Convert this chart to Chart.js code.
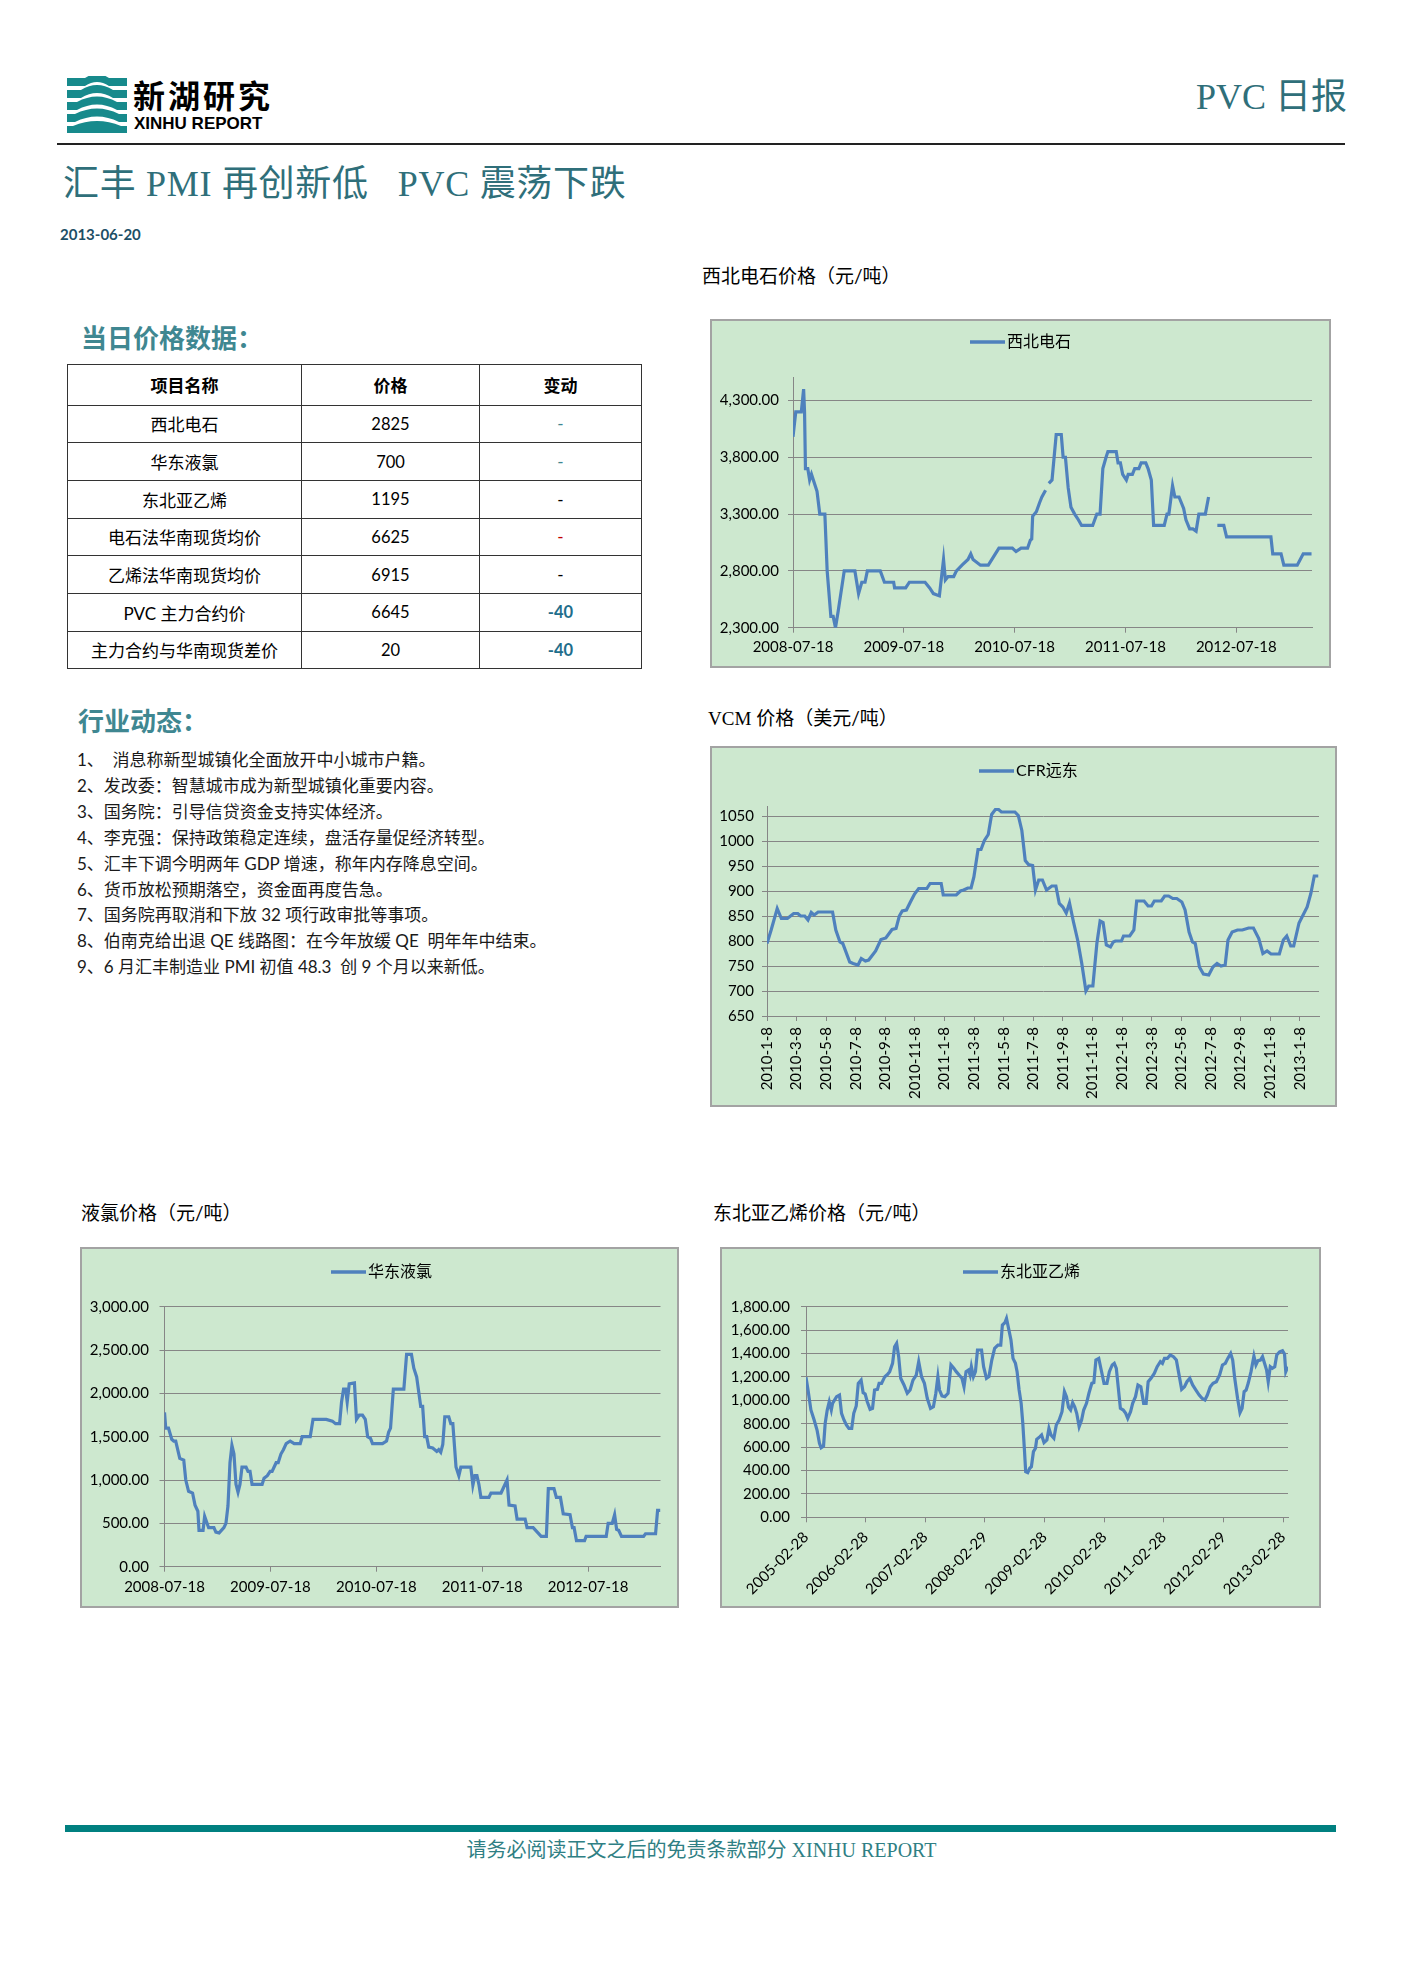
<!DOCTYPE html>
<html>
<head>
<meta charset="utf-8">
<title>PVC 日报</title>
<script src="https://cdn.jsdelivr.net/npm/chart.js@4.4.1/dist/chart.umd.min.js"></script>
<style>
  html, body { margin: 0; padding: 0; background: #fff; }
  #page { position: relative; width: 1403px; height: 1984px; overflow: hidden; background: #fff;
          font-family: Lato, "Noto Sans CJK SC", sans-serif; color: #000; }
  .abs { position: absolute; white-space: pre; line-height: 1; }
  .teal { color: #3f8791; }
  .serif { font-family: "Liberation Serif", "Noto Sans CJK SC", serif; }
  .box { position: absolute; background: #cde8cf; border: 2px solid #a3a3a3; box-sizing: border-box; }
  .box canvas { position: absolute; left: 0; top: 0; }
  table.px { position: absolute; left: 67px; top: 364px; width: 574px; border-collapse: collapse; table-layout: fixed; }
  table.px td { border: 1.5px solid #333; text-align: center; font-size: 17px; height: 36.7px; padding: 0;
                font-family: Lato, "Noto Sans CJK SC", sans-serif; }
  table.px tr.hd td { font-weight: bold; height: 39.5px; }
  table.px td.num { font-size: 16.5px; }
  .list { position: absolute; left: 77px; top: 747px; font-size: 17px; line-height: 25.9px; white-space: pre; color: #1a1a1a; }
</style>
</head>
<body>
<div id="page">
  <!-- logo -->
  <svg class="abs" style="left:67px;top:76px" width="60" height="57" viewBox="0 0 60 57">
    <g fill="#178a8c">
      <path d="M0 2 L18 2 Q30 -6 42 2 L60 2 L60 10 L42 10 Q30 2 18 10 L0 10 Z"/>
      <path d="M0 14 L14 14 Q30 4 46 14 L60 14 L60 22 L46 22 Q30 12 14 22 L0 22 Z"/>
      <path d="M0 26 L10 26 Q30 15 50 26 L60 26 L60 34 L50 34 Q30 23 10 34 L0 34 Z"/>
      <path d="M0 38 L8 38 Q30 27 52 38 L60 38 L60 46 L52 46 Q30 35 8 46 L0 46 Z"/>
      <path d="M0 50 L6 50 Q30 40 54 50 L60 50 L60 57 L0 57 Z"/>
    </g>
  </svg>
  <div class="abs" style="left:133px;top:78px;font-size:32px;font-weight:bold;letter-spacing:3px;font-family:'Noto Sans CJK SC'">新湖研究</div>
  <div class="abs" style="left:134px;top:115px;font-size:17px;font-weight:bold;font-family:'Liberation Sans'">XINHU REPORT</div>
  <div class="abs serif" style="right:56px;top:79px;font-size:36px;color:#2f6f7a">PVC 日报</div>
  <div class="abs" style="left:57px;top:143px;width:1288px;height:2px;background:#222"></div>

  <div class="abs serif" style="left:63px;top:166px;font-size:36px;letter-spacing:0.7px;color:#2f6f7a">汇丰 PMI 再创新低   PVC 震荡下跌</div>
  <div class="abs" style="left:60px;top:227px;font-size:15px;font-weight:bold;color:#1d4f66">2013-06-20</div>

  <div class="abs teal" style="left:81px;top:325px;font-size:26px;font-weight:bold">当日价格数据：</div>
  <table class="px">
    <colgroup><col style="width:234px"><col style="width:178px"><col style="width:162px"></colgroup>
    <tr class="hd"><td>项目名称</td><td>价格</td><td>变动</td></tr>
    <tr><td>西北电石</td><td class="num">2825</td><td style="color:#3f8791">-</td></tr>
    <tr><td>华东液氯</td><td class="num">700</td><td style="color:#3f8791">-</td></tr>
    <tr><td>东北亚乙烯</td><td class="num">1195</td><td>-</td></tr>
    <tr><td>电石法华南现货均价</td><td class="num">6625</td><td style="color:#c00000">-</td></tr>
    <tr><td>乙烯法华南现货均价</td><td class="num">6915</td><td>-</td></tr>
    <tr><td>PVC 主力合约价</td><td class="num">6645</td><td class="num" style="color:#1f6e8c;font-weight:bold">-40</td></tr>
    <tr><td>主力合约与华南现货差价</td><td class="num">20</td><td class="num" style="color:#1f6e8c;font-weight:bold">-40</td></tr>
  </table>

  <div class="abs teal" style="left:78px;top:708px;font-size:26px;font-weight:bold">行业动态：</div>
  <div class="list">1、  消息称新型城镇化全面放开中小城市户籍。
2、发改委：智慧城市成为新型城镇化重要内容。
3、国务院：引导信贷资金支持实体经济。
4、李克强：保持政策稳定连续，盘活存量促经济转型。
5、汇丰下调今明两年 GDP 增速，称年内存降息空间。
6、货币放松预期落空，资金面再度告急。
7、国务院再取消和下放 32 项行政审批等事项。
8、伯南克给出退 QE 线路图：在今年放缓 QE  明年年中结束。
9、6 月汇丰制造业 PMI 初值 48.3  创 9 个月以来新低。</div>

  <div class="abs" style="left:702px;top:266px;font-size:19px">西北电石价格（元/吨）</div>
  <div class="box" style="left:710px;top:319px;width:621px;height:349px"><canvas id="c1" width="617" height="345"></canvas></div>

  <div class="abs" style="left:708px;top:708px;font-size:19px"><span class="serif">VCM</span> 价格（美元/吨）</div>
  <div class="box" style="left:710px;top:746px;width:627px;height:361px"><canvas id="c2" width="623" height="357"></canvas></div>

  <div class="abs" style="left:81px;top:1203px;font-size:19px">液氯价格（元/吨）</div>
  <div class="box" style="left:80px;top:1247px;width:599px;height:361px"><canvas id="c3" width="595" height="357"></canvas></div>

  <div class="abs" style="left:713px;top:1203px;font-size:19px">东北亚乙烯价格（元/吨）</div>
  <div class="box" style="left:720px;top:1247px;width:601px;height:361px"><canvas id="c4" width="597" height="357"></canvas></div>

  <div class="abs" style="left:65px;top:1825px;width:1271px;height:7px;background:#008080"></div>
  <div class="abs serif" style="left:0;width:1403px;top:1840px;font-size:20px;text-align:center;color:#2f7f84">请务必阅读正文之后的免责条款部分 XINHU REPORT</div>
</div>

<script>
// 西北电石 (元/吨), x = months after 2008-07-18
const ncMonths = [0,0.3,0.9,1.15,1.25,1.35,1.6,1.8,2.0,2.6,2.9,3.45,3.7,4.1,4.35,4.6,4.9,5.55,6.7,7.1,7.45,7.8,8.05,9.45,9.9,10.9,11.0,12.2,12.6,14.3,14.8,15.2,15.85,16.3,16.5,16.8,17.4,17.7,18.3,18.95,19.25,19.5,20.3,21.15,22.3,23.75,24.15,24.7,25.4,25.7,25.85,25.95,26.35,26.7,26.95,27.35,27.5,27.7,28.05,28.5,29.05,29.25,29.5,29.8,30.1,30.5,30.9,31.25,32.45,32.9,33.25,33.55,33.9,34.1,35.0,35.2,35.45,35.7,36.1,36.3,36.75,37.0,37.45,37.7,38.2,38.45,38.8,39.05,40.2,40.5,40.7,41.1,41.35,41.8,42.3,42.55,42.95,43.3,43.65,43.95,44.65,45.0,45.5,45.95,46.65,46.95,51.75,51.95,52.85,53.15,54.6,55.25,56.15];
const ncPrice = [3980,4200,4200,4400,4200,3700,3700,3600,3650,3500,3300,3300,2800,2400,2400,2300,2450,2800,2800,2600,2700,2700,2800,2800,2700,2700,2650,2650,2700,2700,2650,2600,2580,2900,2720,2750,2750,2800,2850,2900,2950,2900,2850,2850,3000,3000,2970,3000,3000,3070,3080,3280,3320,3400,3450,3510,null,3570,3600,4000,4000,3800,3800,3530,3360,3300,3250,3200,3200,3300,3300,3700,3800,3850,3850,3750,3750,3650,3600,3650,3650,3700,3700,3750,3750,3700,3600,3200,3200,3300,3300,3550,3450,3450,3350,3250,3170,3170,3150,3300,3300,3450,null,3200,3200,3100,3100,2950,2950,2850,2850,2950,2950];

// VCM CFR远东 (美元/吨), x = months after 2010-1-8
const vcmMonths = [0,0.28,0.69,0.97,1.38,1.8,2.08,2.27,2.55,2.77,2.99,3.18,3.46,4.43,4.65,4.93,5.12,5.59,5.82,6.15,6.37,6.65,6.87,7.34,7.7,8.03,8.45,8.72,8.94,9.14,9.42,9.69,9.97,10.25,10.8,11.02,11.77,11.91,12.79,13.07,13.29,13.57,13.79,13.98,14.26,14.46,14.69,14.95,15.18,15.43,15.65,15.84,16.75,16.98,17.22,17.45,17.67,17.95,18.14,18.36,18.61,18.89,19.25,19.52,19.75,19.99,20.22,20.44,20.71,20.99,21.27,21.55,21.74,22.02,22.29,22.51,22.71,22.93,23.21,23.4,23.54,23.95,24.09,24.51,24.79,24.98,25.48,25.75,25.98,26.17,26.64,26.87,27.14,27.42,27.69,28.03,28.25,28.52,28.75,28.94,29.22,29.49,29.85,30.13,30.41,30.68,30.96,31.15,31.43,31.79,32.12,32.54,32.87,33.23,33.51,33.79,34.06,34.62,34.89,35.12,35.39,35.59,35.95,36.5,36.75,36.98,37.25];
const vcmPrice = [795,822,865,845,845,855,855,850,850,842,857,852,858,858,822,798,795,758,755,752,765,760,762,780,803,806,823,825,850,860,862,878,894,905,905,915,915,892,892,900,902,906,906,928,983,983,1001,1013,1053,1063,1063,1058,1058,1051,1021,961,953,951,902,922,922,902,910,910,875,868,856,876,838,802,755,700,710,710,795,840,837,792,788,798,800,800,810,810,822,880,880,870,870,880,880,890,890,885,885,878,862,818,798,795,748,734,732,748,755,750,752,802,818,822,822,826,826,805,775,780,774,774,802,810,790,790,836,868,895,930,930];

// 华东液氯 (元/吨), x = months after 2008-07-18
const clMonths = [0,0.14,0.45,0.82,1.05,1.27,1.73,2.18,2.41,2.73,3.18,3.46,3.78,3.91,4.37,4.55,5.0,5.6,5.82,6.19,6.73,6.96,7.19,7.42,7.64,7.87,8.1,8.33,8.55,8.78,9.24,9.46,9.69,9.92,11.06,11.28,11.65,11.97,12.19,12.65,12.88,13.19,13.47,13.79,14.24,14.7,15.38,15.6,16.51,16.83,18.33,19.02,19.38,19.84,20.06,20.29,20.52,20.7,20.93,21.52,21.75,22.07,22.43,22.75,23.02,23.34,23.57,24.7,25.16,25.39,25.61,25.93,27.12,27.43,27.98,28.25,28.57,29.03,29.25,29.48,29.71,29.94,30.39,30.85,31.07,31.3,31.53,31.76,32.21,32.44,32.67,33.03,33.35,33.58,34.71,34.94,35.17,35.4,35.62,35.85,36.76,36.99,38.13,38.81,39.04,39.72,39.95,40.86,41.08,41.77,42.68,43.27,43.49,44.13,44.4,44.86,45.18,45.95,46.22,46.41,46.68,47.59,47.77,50.05,50.27,50.73,51.0,51.23,51.46,51.78,54.28,54.5,55.64,55.87,56.19];
const clPrice = [1780,1600,1600,1470,1450,1450,1250,1230,1000,870,850,710,640,420,420,580,450,450,400,390,450,500,700,1200,1400,1300,950,860,950,1150,1150,1100,1100,950,950,1020,1050,1100,1100,1200,1200,1300,1350,1420,1450,1420,1420,1500,1500,1700,1700,1680,1650,1650,1900,2050,2050,1900,2110,2120,1700,1750,1750,1700,1500,1480,1420,1420,1450,1550,1600,2050,2050,2450,2450,2290,2190,1850,1850,1500,1500,1380,1370,1330,1350,1320,1410,1730,1730,1650,1650,1150,1050,1150,1150,940,1050,1050,950,800,800,850,850,1000,710,700,550,550,450,450,350,350,900,900,800,800,610,600,450,450,300,300,350,350,500,500,600,430,420,350,350,380,380,650,650];

// 东北亚乙烯 (元/吨), x = months after 2005-02-28
const etMonths = [0,0.41,0.99,1.64,2.22,2.71,3.04,3.53,3.86,4.27,4.68,5.09,5.34,6.16,6.74,7.15,7.64,8.13,8.63,9.2,9.61,10.11,10.52,11.09,11.5,11.91,12.33,12.9,13.39,13.8,14.38,14.71,15.2,15.86,16.43,16.84,17.42,17.83,18.24,18.65,19.06,19.72,20.38,20.95,21.53,22.19,22.68,23.25,23.83,24.4,25.06,25.64,26.13,26.54,26.87,27.36,27.94,28.59,29.17,29.75,30.24,30.81,31.39,31.8,32.21,32.7,33.03,33.28,33.69,34.1,34.51,35.33,35.74,36.32,36.81,37.39,37.96,38.62,39.19,39.52,40.02,40.35,40.84,41.25,41.66,42.15,42.48,42.89,43.3,43.63,43.96,44.21,44.62,45.03,45.36,45.77,46.18,46.43,47.08,47.41,47.9,48.48,48.89,49.3,49.88,50.37,50.95,51.52,52.01,52.42,52.84,53.25,53.66,54.07,54.48,54.97,55.46,55.88,56.45,56.94,57.52,57.93,58.34,58.92,59.41,59.98,60.56,61.05,61.63,62.04,62.45,62.86,63.27,63.85,64.34,64.75,65.32,65.74,66.31,66.8,67.38,67.95,68.45,68.86,69.43,70.09,70.67,71.32,71.73,72.14,72.72,73.3,73.95,74.53,75.02,75.6,76.17,76.66,77.24,77.81,78.47,79.13,79.7,80.28,80.77,81.35,81.92,82.58,83.24,83.81,84.39,84.88,85.46,85.87,86.28,86.85,87.34,87.76,88.17,88.58,88.99,89.56,90.14,90.55,90.96,91.45,91.87,92.28,92.69,93.02,93.43,93.84,94.33,94.74,95.32,95.89,96.3,96.55,96.96];
const etPrice = [1196,1088,917,832,746,632,595,609,803,917,988,917,974,1031,1045,889,832,789,760,760,889,951,1145,1173,1065,1054,988,923,931,1088,1094,1145,1145,1202,1222,1245,1316,1458,1487,1373,1188,1131,1060,1088,1173,1216,1330,1202,1145,1017,931,945,1060,1202,1088,1037,1031,1060,1302,1273,1245,1216,1188,1116,1245,1259,1216,1287,1202,1245,1430,1430,1287,1188,1202,1344,1444,1472,1472,1643,1663,1700,1600,1515,1358,1316,1245,1088,974,803,575,390,382,419,433,561,590,666,689,703,638,661,760,703,675,789,832,903,1074,1031,940,917,980,945,889,775,832,917,974,1060,1145,1151,1344,1358,1259,1145,1145,1245,1302,1316,1273,1102,931,917,889,846,903,974,1031,1131,1116,974,974,1159,1188,1230,1287,1330,1316,1358,1358,1387,1373,1344,1230,1094,1116,1159,1188,1131,1088,1045,1017,1003,1045,1116,1145,1159,1216,1302,1316,1358,1401,1344,1188,1017,894,931,1074,1088,1145,1245,1378,1302,1339,1344,1373,1316,1259,1159,1287,1273,1287,1387,1415,1424,1396,1245,1287];

// tick labels
const yearLabels08 = ['2008-07-18', '2009-07-18', '2010-07-18', '2011-07-18', '2012-07-18'];
const vcmLabels = ['2010-1-8','2010-3-8','2010-5-8','2010-7-8','2010-9-8','2010-11-8','2011-1-8','2011-3-8','2011-5-8','2011-7-8','2011-9-8','2011-11-8','2012-1-8','2012-3-8','2012-5-8','2012-7-8','2012-9-8','2012-11-8','2013-1-8'];
const etLabels = ['2005-02-28','2006-02-28','2007-02-28','2008-02-29','2009-02-28','2010-02-28','2011-02-28','2012-02-29','2013-02-28'];

Chart.defaults.font.family = 'Lato, "Noto Sans CJK SC", sans-serif';
Chart.defaults.font.size = 15;
Chart.defaults.color = '#000';

const AXIS = '#868686';
const money = v => v.toLocaleString('en-US', {minimumFractionDigits: 2, maximumFractionDigits: 2});
const plain = v => String(v);

// legend drawn like Excel's: short thick line followed by the series name
const boxLegend = {
  id: 'boxLegend',
  afterDraw(chart, args, opts) {
    const ds = chart.data.datasets[0];
    const ctx = chart.ctx;
    ctx.save();
    ctx.strokeStyle = ds.borderColor;
    ctx.lineWidth = 3.5;
    ctx.beginPath();
    ctx.moveTo(opts.x, opts.y);
    ctx.lineTo(opts.x + 35, opts.y);
    ctx.stroke();
    ctx.fillStyle = '#000';
    ctx.font = '16px Lato, "Noto Sans CJK SC"';
    ctx.textBaseline = 'middle';
    ctx.fillText(ds.label, opts.x + 37, opts.y);
    ctx.restore();
  }
};

function lineChart(id, o) {
  const pts = o.xs.map((x, i) => ({x: x, y: o.ys[i]}));
  return new Chart(document.getElementById(id), {
    type: 'line',
    data: {
      datasets: [{
        label: o.label,
        data: pts,
        borderColor: '#4f81bd',
        borderWidth: 3.2,
        pointRadius: 0,
        tension: 0,
        spanGaps: false
      }]
    },
    options: {
      responsive: false,
      animation: false,
      events: [],
      layout: {padding: o.pad},
      plugins: {
        legend: {display: false},
        tooltip: {enabled: false},
        boxLegend: o.legend
      },
      scales: {
        x: {
          type: 'linear',
          min: o.xMin,
          max: o.xMax,
          afterBuildTicks: s => { s.ticks = o.xTicks.map(v => ({value: v})); },
          afterFit: s => { s.height = o.xH; },
          grid: {drawOnChartArea: false, color: AXIS, tickLength: 5},
          border: {color: AXIS, width: 1},
          ticks: {
            autoSkip: false,
            minRotation: o.rot,
            maxRotation: o.rot,
            padding: o.xPad,
            callback: (v, i) => o.xLabels[i]
          }
        },
        y: {
          min: o.yMin,
          max: o.yMax,
          afterBuildTicks: s => { s.ticks = o.yTicks.map(v => ({value: v})); },
          afterFit: s => { s.width = o.yW; },
          grid: {color: AXIS, tickLength: 5},
          border: {color: AXIS, width: 1},
          ticks: {padding: o.yPad, callback: v => o.fmt(v)}
        }
      }
    },
    plugins: [boxLegend]
  });
}

lineChart('c1', {
  label: '西北电石', xs: ncMonths, ys: ncPrice,
  xMin: 0, xMax: 56.2, xTicks: [0, 12, 24, 36, 48], xLabels: yearLabels08, rot: 0, xPad: 5, xH: 38.3,
  yMin: 2300, yMax: 4500, yTicks: [2300, 2800, 3300, 3800, 4300], fmt: money, yW: 81, yPad: 9,
  pad: {top: 56.7, left: 0, right: 17, bottom: 0},
  legend: {x: 258, y: 21}
});

lineChart('c2', {
  label: 'CFR远东', xs: vcmMonths, ys: vcmPrice,
  xMin: 0, xMax: 37.3, xTicks: [0,2,4,6,8,10,12,14,16,18,20,22,24,26,28,30,32,34,36], xLabels: vcmLabels, rot: 90, xPad: 6, xH: 89,
  yMin: 650, yMax: 1070, yTicks: [650,700,750,800,850,900,950,1000,1050], fmt: plain, yW: 55, yPad: 8,
  pad: {top: 58, left: 0, right: 16, bottom: 0},
  legend: {x: 267, y: 23}
});

lineChart('c3', {
  label: '华东液氯', xs: clMonths, ys: clPrice,
  xMin: 0, xMax: 56.2, xTicks: [0, 12, 24, 36, 48], xLabels: yearLabels08, rot: 0, xPad: 6, xH: 39.3,
  yMin: 0, yMax: 3000, yTicks: [0, 500, 1000, 1500, 2000, 2500, 3000], fmt: money, yW: 82.5, yPad: 10.5,
  pad: {top: 57.7, left: 0, right: 16.5, bottom: 0},
  legend: {x: 249, y: 23}
});

lineChart('c4', {
  label: '东北亚乙烯', xs: etMonths, ys: etPrice,
  xMin: 0, xMax: 97, xTicks: [0,12,24,36,48,60,72,84,96], xLabels: etLabels, rot: 45, xPad: 6, xH: 88.7,
  yMin: 0, yMax: 1800, yTicks: [0,200,400,600,800,1000,1200,1400,1600,1800], fmt: money, yW: 84, yPad: 11,
  pad: {top: 57.7, left: 0, right: 31, bottom: 0},
  legend: {x: 241, y: 23}
});
</script>
</body>
</html>
